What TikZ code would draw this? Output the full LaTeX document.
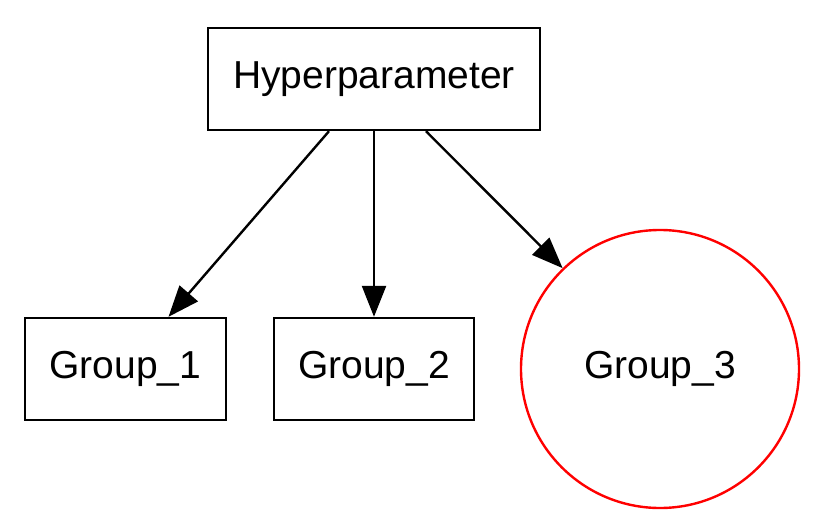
\documentclass[tikz,border=0pt]{standalone}
\usepackage{fontspec}
\setmainfont{Liberation Sans}
\usetikzlibrary{arrows.meta}
\begin{document}
\begin{tikzpicture}[x=1pt,y=1pt,
  box/.style={draw=black,line width=2.4pt,inner sep=0pt,minimum height=102pt,font=\fontsize{39}{44}\selectfont},
  circ/.style={draw=red,circle,line width=2.4pt,inner sep=0pt,minimum size=278pt,font=\fontsize{39}{44}\selectfont},
  edge/.style={draw=black,line width=2.4pt,-{Triangle[length=31pt,width=24pt]}}]
\useasboundingbox (0,0) rectangle (821,528);
\node[box,minimum width=332pt] (H) at (374,449) {\raisebox{-3pt}{Hyperparameter}};
\node[box,minimum width=201pt] (G1) at (125.5,159) {\raisebox{-3pt}{Group\_1}};
\node[box,minimum width=200pt] (G2) at (374,159) {\raisebox{-3pt}{Group\_2}};
\node[circ] (G3) at (660,159) {\raisebox{-3pt}{Group\_3}};
\draw[edge] ([xshift=-45pt]H.south) -- ([xshift=43pt]G1.north);
\draw[edge] (H.south) -- (G2.north);
\draw[edge] ([xshift=52pt]H.south) -- (G3.134);
\end{tikzpicture}
\end{document}
